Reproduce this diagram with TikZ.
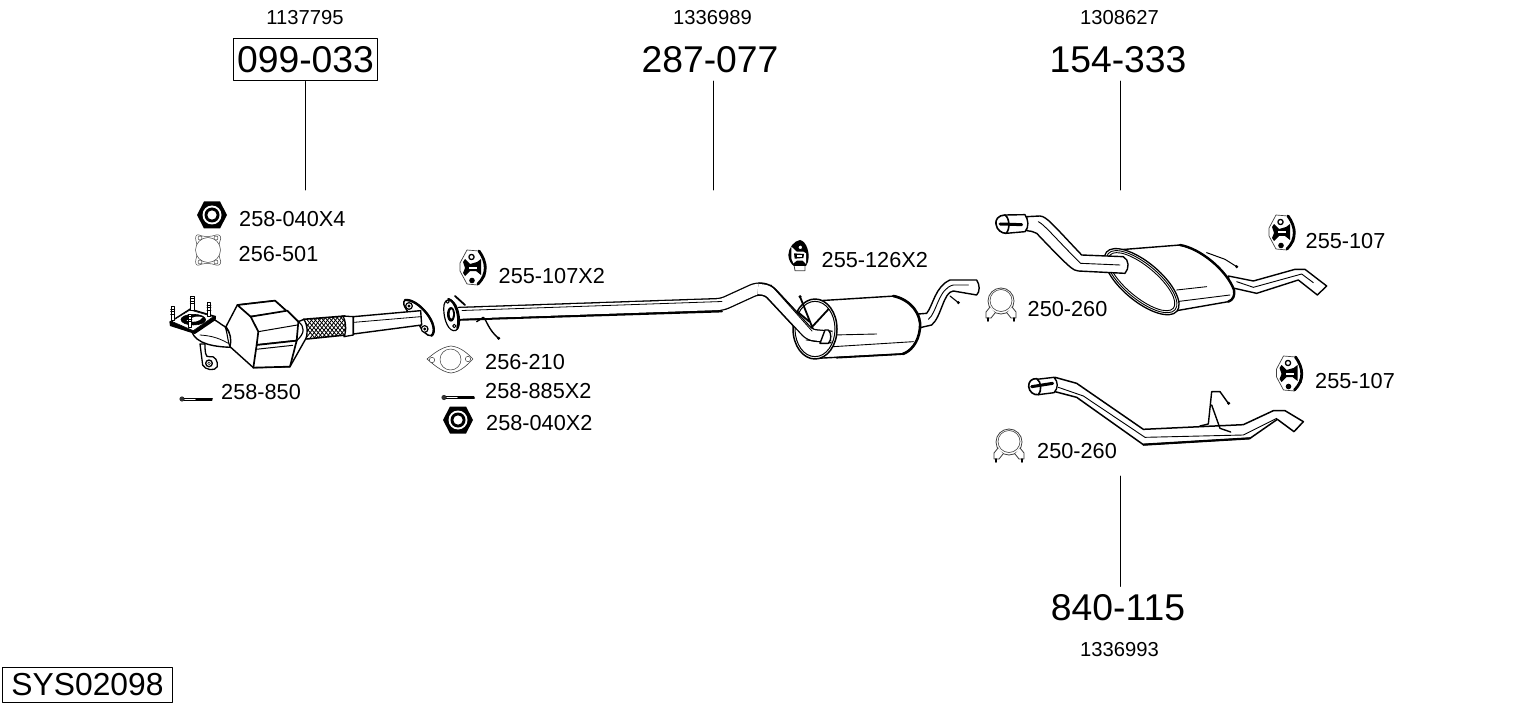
\documentclass[tikz,border=0pt]{standalone}
\usepackage{fontspec}
\setmainfont{Liberation Sans}
\begin{document}
\begin{tikzpicture}[x=1pt,y=-1pt,line join=round,line cap=round]
\tikzset{
 small/.style={font=\fontsize{20.2}{22}\selectfont,inner sep=0pt},
 big/.style={font=\fontsize{37.3}{40}\selectfont,inner sep=0pt},
 lab/.style={font=\fontsize{21.7}{24}\selectfont,inner sep=0pt,anchor=west},
 leader/.style={line width=1pt,black},
 ol/.style={line width=1.1pt,black,fill=white},
 thin part/.style={line width=.5pt,black!75,fill=white},
 pipe/.style={double=white,double distance=#1,line width=1.3pt,draw=black,rounded corners=5pt,line cap=butt},
 wire/.style={line width=1pt,black},
 nutpic/.pic={
  \fill[black] (-15,0)--(-8,-13.5)--(8,-13.5)--(15,0)--(8,13.5)--(-8,13.5)--cycle;
  \fill[white] (0,0) circle (9.5);
  \fill[black] (0,0) circle (7.5);
  \fill[white] (0,0) circle (4.6);
 },
 hangerpic/.pic={
  \draw[thin part,line width=.7pt] (-13,-5)--(-6,-18)--(6,-17)--(13,-3)--(12,8)--(5,17)--(-6,16)--(-13,3)--cycle;
  \draw[line width=2.8pt,black] (6,-17)..controls (14,-6) and (15,6)..(5,16);
  \fill[black] (-8,-9)--(-3,-4)--(4,-6)--(8,-9)--(8,7)--(3,3)--(-3,3)--(-8,8)--(-10,5)--(-8,0)--(-10,-6)--cycle;
  \fill[white] (-4,-1.5) rectangle (4,0.5);
  \draw[line width=1.3pt,black,fill=white] (-1.5,-11) circle (2.6);
  \fill[black] (-1,12.5) circle (2.8);
 },
 clamppic/.pic={
  \draw[thin part,line width=.8pt] (0,-3) circle (13);
  \draw[thin part,line width=.6pt] (0,-3.5) circle (11);
  \draw[line width=.8pt,black!80,fill=white] (-11,3)--(-15,8)--(-15,14)--(-10,14)--(-6,9);
  \draw[line width=.8pt,black!80,fill=white] (11,3)--(15,8)--(15,14)--(10,14)--(6,9);
  \draw[line width=1.6pt,black] (-13,14)--(-13,17) (13,14)--(13,17);
 },
 boltpic/.pic={
  \fill[black!80] (0,0) circle (2.6);
  \draw[line width=.8pt,black] (2,-1)--(30,-1) (2,1)--(30,1);
  \draw[line width=2pt,black] (14,0)--(30,0);
 }
}
\useasboundingbox (0,0) rectangle (1530,711);

% ---- titles
\node[small] (n1) at (305,18) {1137795};
\node[small] (n2) at (712.5,18) {1336989};
\node[small] (n3) at (1119.5,18) {1308627};
\node[small] (n4) at (1119.5,649.5) {1336993};
\node[big,draw,line width=1pt,minimum width=144pt,minimum height=42pt] (p1) at (305.5,60) {099-033};
\node[big,minimum height=42pt] (p2) at (710,60) {287-077};
\node[big,minimum height=42pt] (p3) at (1118,60) {154-333};
\node[big,minimum height=42pt] (p4) at (1118,607.5) {840-115};
\coordinate (c1) at (p1.south |- 0,190);
\coordinate (c2) at (713,190);
\coordinate (c3) at (1120.5,190);
\coordinate (c4) at (1120.5,476);
\draw[leader] (p1.south) -- (c1);
\draw[leader] (p2.south -| c2) -- (c2);
\draw[leader] (p3.south -| c3) -- (c3);
\draw[leader] (p4.north -| c4) -- (c4);
\node[font=\fontsize{31.8}{34}\selectfont,draw,line width=1pt,inner sep=0pt,minimum width=170pt,minimum height=35pt] (sys) at (87.5,685) {SYS02098};

% ---- labels
\node[lab] (l1) at (239,219) {258-040X4};
\node[lab] (l2) at (238.5,254.5) {256-501};
\node[lab] (l3) at (221,392) {258-850};
\node[lab] (l4) at (498.5,276) {255-107X2};
\node[lab] (l5) at (485,362) {256-210};
\node[lab] (l6) at (485,391) {258-885X2};
\node[lab] (l7) at (486,423) {258-040X2};
\node[lab] (l8) at (821.5,260.5) {255-126X2};
\node[lab] (l9) at (1027.5,309) {250-260};
\node[lab] (l10) at (1305.5,241) {255-107};
\node[lab] (l11) at (1037,451) {250-260};
\node[lab] (l12) at (1315,381) {255-107};

% ---- small parts
\pic at (212,215) {nutpic};
\pic at (458,420) {nutpic};
\pic at (473,268) {hangerpic};
\pic at (1282,233) {hangerpic};
\pic at (1289.5,374) {hangerpic};
\pic at (1001,304) {clamppic};
\pic at (1009,445) {clamppic};
\pic at (182,399) {boltpic};
\pic at (444,397.5) {boltpic};

% gasket 256-501
\draw[thin part] (199,235)..controls (203,237) and (211,237)..(216,235)
 ..controls (220,234) and (222,237)..(220,241)..controls (218,246) and (218,254)..(220,259)
 ..controls (222,263) and (220,266)..(216,265)..controls (211,263) and (203,263)..(199,265)
 ..controls (196,266) and (195,263)..(196,259)..controls (198,254) and (198,246)..(196,241)
 ..controls (195,237) and (196,234)..(199,235)--cycle;
\draw[thin part] (208,250) circle (12.5);
\foreach \x/\y in {200/238,216/238,200/262,216/262}{\draw[thin part] (\x,\y) circle (2);}

% gasket 256-210
\draw[thin part,line width=.6pt] (427,359)..controls (432,355) and (441,347)..(451,346)
 ..controls (461,347) and (468,354)..(473,359)..controls (468,364) and (461,372)..(451,373)
 ..controls (441,372) and (432,363)..(427,359)--cycle;
\draw[thin part] (450.5,359.5) circle (10.5);
\draw[thin part] (432,360) circle (2.7);
\draw[thin part] (468,359) circle (2.7);

% hanger 255-126
\begin{scope}[shift={(720,230)},scale=1/3]
 \draw[thin part,line width=.8pt] (222,105)--(225,122)--(255,122)--(255,105);
 \fill[black] (240,30)..controls (222,32) and (205,55)..(205,75)..controls (205,90) and (215,105)..(222,108)--(258,108)..controls (268,95) and (268,70)..(262,55)..controls (258,42) and (250,32)..(240,30)--cycle;
 \fill[white] (214,50)--(230,65)--(250,65)--(258,70)--(258,102)--(248,92)--(230,92)--(220,100)--(214,85)--cycle;
 \fill[black] (222,70)--(252,72)--(250,84)--(224,86)--cycle;
 \fill[white] (230,75) rectangle (245,80);
 \draw[line width=1pt,black,fill=white] (241,52) circle (7);
\end{scope}

% ---- catalyst
\begin{scope}[shift={(150,190)},scale=1/3]
 % bracket
 \draw[line width=1.3pt,black,fill=white] (150,462)--(158,525)..controls (165,540) and (195,545)..(202,530)..controls (205,515) and (195,495)..(178,500)..controls (165,505) and (165,480)..(165,462)--cycle;
 \draw[line width=1.3pt,black] (177,520) circle (10);
 \fill[black] (177,520) circle (5);
 \fill[white] (177,520) circle (2.5);
 % elbow
 \draw[ol,line width=1.4pt] (125,425)..controls (140,462) and (190,470)..(243,472)--(245,430)--(225,410)..controls (215,405) and (205,395)..(185,385)--cycle;
 \draw[line width=.8pt,black] (150,435)..controls (175,437) and (200,440)..(235,460);
 \draw[ol] (225,410)..controls (240,425) and (248,450)..(240,470)..controls (234,460) and (232,425)..(225,410)--cycle;
 % flange
 \fill[black] (58,395)--(120,355)--(198,378)--(197,390)--(135,432)--(60,408)--cycle;
 \draw[fill=white,line width=.6pt] (65,394)--(120,360)--(190,380)--(130,422)--cycle;
 \draw[fill=black,line width=.6pt] (130,389) ellipse (37 and 16);
 \fill[white] (110,392)..controls (130,378) and (145,378)..(158,382)..controls (150,395) and (125,400)..(110,392)--cycle;
 \foreach \x/\y/\h in {68/350/40,127/318/42,177/338/42,120/372/40}{
  \draw[line width=.9pt,fill=white] (\x-5,\y) rectangle (\x+5,\y+\h);
  \foreach \k in {7,15,23}{\draw[line width=.7pt] (\x-6,\y+\k)--(\x+6,\y+\k);}
 }
 % flex + pipe
 \begin{scope}
  \clip (460,388)--(585,378)--(587,435)--(470,447)--cycle;
  \foreach \i in {0,12,...,240}{
   \draw[line width=.8pt,black] (440+\i,450)--(500+\i,370);
   \draw[line width=.8pt,black] (430+\i,370)--(500+\i,450);
  }
 \end{scope}
 \draw[line width=1.6pt] (460,388)--(585,378) (470,447)--(587,435);
 \draw[ol,line width=1.3pt] (578,378)..controls (588,390) and (590,425)..(582,440)--(610,435)--(610,380)--cycle;
 % flange right
 \draw[line width=1.5pt,black,fill=white] (765,330)..controls (785,328) and (810,345)..(830,370)..controls (850,395) and (858,425)..(845,437)..controls (830,440) and (815,420)..(805,400)..controls (790,385) and (770,365)..(762,345)..controls (760,338) and (762,332)..(765,330)--cycle;
 \draw[line width=2.4pt,black] (765,330)..controls (785,328) and (810,345)..(830,370)..controls (850,395) and (858,425)..(845,437);
 \draw[ol,line width=1.4pt] (610,380)--(812,362)--(815,405)--(610,432)--cycle;
 \draw[line width=.8pt] (612,397)--(812,380);
 \draw[line width=1.2pt,fill=white] (777,348) circle (10);
 \fill (777,348) circle (5);
 \draw[line width=1.2pt,fill=white] (824,417) circle (10);
 \fill (824,417) circle (5);
 % body
 \draw[ol,line width=1.4pt] (228,410)--(262,345)--(375,332)--(445,395)--(462,388)..controls (475,410) and (472,435)..(468,445)--(420,530)--(310,533)--(240,470)..controls (246,450) and (240,425)..(228,410)--cycle;
 \draw[line width=1.7pt,fill=white] (262,345)--(375,332)--(412,365)--(302,380)--cycle;
 \draw[line width=1.7pt,fill=white] (302,380)--(412,362)--(445,395)--(440,452)--(320,465)--(325,425)--cycle;
 \draw[line width=1pt] (325,425)--(442,405);
 \draw[line width=1.7pt,fill=white] (320,465)--(440,452)--(420,530)--(310,533)--(318,478)--cycle;
 \draw[line width=1pt] (318,478)--(428,466);
 \draw[line width=1.2pt] (445,395)..controls (465,410) and (465,430)..(440,452);
\end{scope}

% ---- front pipe
\draw[pipe=10.8] (458,313.5)--(722,304.5)--(757,288.5)--(768,290)--(810,335)--(832,337);
\draw[line width=.8pt,black] (462,310.5)--(722,301.5);
\draw[line width=1.8pt,black] (456,320)--(722,311.5);
\begin{scope}[shift={(420,230)},scale=1/3]
 \draw[line width=1.8pt] (105,198)--(135,225);
 \draw[line width=1.2pt,black,fill=white] (72,225)..controls (78,200) and (100,205)..(112,235)..controls (122,265) and (122,305)..(100,302)..controls (80,298) and (68,255)..(72,225)--cycle;
 \draw[line width=2.2pt] (85,207)..controls (105,212) and (122,260)..(112,295);
 \fill (93,253) ellipse (12 and 22);
 \fill[white] (94,252) ellipse (5 and 14);
 \draw[line width=1pt,fill=white] (83,215) circle (5);
 \draw[line width=1pt,fill=white] (103,288) circle (5);
 \draw[wire,line width=1.4pt] (170,275)--(190,262)..controls (200,270) and (205,300)..(236,325);
 \fill (236,325) circle (5);
\end{scope}

% ---- middle muffler
\begin{scope}[shift={(720,230)},scale=1/3]
 \draw[ol,line width=1.4pt] (595,252)--(620,250)..controls (640,225) and (645,170)..(690,150)--(770,150)..controls (780,165) and (780,185)..(770,195)--(700,183)..controls (670,185) and (665,260)..(635,285)--(600,293)--cycle;
 \draw[line width=.9pt] (625,268)..controls (650,250) and (655,175)..(700,165)--(745,165);
 \draw[line width=1.1pt] (690,198)--(715,218);
 \fill (715,218) circle (5);
 \draw[ol,line width=1.4pt] (300,212)--(525,198)..controls (575,210) and (605,255)..(600,295)..controls (595,340) and (570,365)..(548,372)--(290,385)--cycle;
 \draw[line width=2.6pt] (520,198)..controls (575,210) and (605,255)..(600,295)..controls (595,340) and (570,365)..(548,372);
 \draw[line width=1.8pt] (548,372)--(350,383);
 \draw[line width=.9pt] (340,350)--(580,335);
 \draw[line width=.9pt] (340,315)--(470,312);
 \draw[line width=1.5pt,fill=white] (285,297) ellipse [x radius=66,y radius=90];
 \draw[line width=1pt] (285,297) ellipse [x radius=60,y radius=83];
 \draw[line width=1.8pt] (240,200)--(280,300) (325,238)--(275,292) (232,245)--(268,275);
 \fill (240,200) circle (5);
\end{scope}
\draw[pipe=10.2] (758,289)--(768,290)--(810,335)--(832,337);
\draw[line width=.8pt] (806,340)--(830,343);
\begin{scope}[shift={(720,230)},scale=1/3]
 \draw[line width=1.4pt,fill=white] (325,300)..controls (335,310) and (335,330)..(325,340)--(300,340)--(315,300)--cycle;
\end{scope}
\draw[line width=.8pt,black] (771,285)--(812,331);

% ---- rear muffler
\begin{scope}[shift={(980,200)},scale=1/3]
 % outlet pipe
 \draw[ol,line width=1.4pt] (745,228)--(820,243)--(945,208)--(975,208)--(1040,258)--(1012,285)--(955,240)--(830,280)--(750,262)--cycle;
 \draw[line width=.9pt] (770,245)--(820,262)--(965,222)--(1000,248);
 % wire
 \draw[wire] (680,158)--(735,178)--(770,200);
 \fill (770,200) circle (5);
 % body
 \draw[ol,line width=1.4pt] (410,150)--(600,135)..controls (660,145) and (740,210)..(762,270)..controls (765,285) and (760,300)..(745,305)--(590,332)--(500,300)--cycle;
 \draw[line width=2.4pt] (600,135)..controls (660,145) and (740,210)..(762,270)..controls (765,285) and (760,300)..(745,305);
 \draw[line width=.9pt] (590,270)--(680,260);
 \draw[line width=.9pt] (590,305)--(750,285);
 \draw[line width=1.3pt,fill=white,rotate around={-40:(485,245)}] (485,245) ellipse [x radius=138,y radius=58];
 \draw[line width=.9pt,rotate around={-40:(485,245)}] (485,245) ellipse [x radius=131,y radius=52];
 \draw[line width=.9pt,rotate around={-40:(485,245)}] (485,245) ellipse [x radius=124,y radius=46];
 % inlet pipe
 \draw[ol,line width=1.4pt] (140,50)--(180,48)..controls (200,50) and (215,70)..(305,165)--(430,170)..controls (448,180) and (448,205)..(435,220)--(295,213)..controls (280,212) and (270,205)..(170,100)..controls (160,95) and (150,92)..(140,92)--cycle;
 \draw[line width=.9pt] (175,65)..controls (195,75) and (240,130)..(302,190)--(420,195);
 % tip
 \draw[ol,line width=1.4pt] (75,45)--(135,44)..controls (145,60) and (148,80)..(135,95)--(78,100)--cycle;
 \draw[line width=1.6pt,fill=white] (75,45)..controls (55,45) and (45,60)..(48,72)..controls (50,90) and (65,100)..(78,100)..controls (90,90) and (90,55)..(75,45)--cycle;
 \draw[line width=3pt] (60,72)--(125,74);
\end{scope}

% ---- rear pipe
\begin{scope}[shift={(980,350)},scale=1/3]
 \draw[wire,line width=1.4pt] (660,228)--(685,222)--(695,125)--(720,125)--(745,160);
 \fill (746,160) circle (5);
 \draw[ol,line width=1.5pt] (225,82)--(290,100)--(490,238)--(790,224)--(880,182)--(915,182)--(970,215)--(942,245)--(892,208)--(810,265)--(490,284)--(290,142)--(225,125)--cycle;
 \draw[line width=.9pt] (235,112)--(310,138)--(495,262)--(790,255)--(890,205);
 \draw[line width=2.2pt] (490,284)--(810,265);
 \draw[wire,line width=1.4pt] (695,165)--(720,235)--(752,246);
 \draw[ol,line width=1.4pt] (170,88)--(222,82)..controls (235,95) and (235,115)..(222,128)--(175,134)--cycle;
 \draw[line width=1.6pt,fill=white] (170,86)..controls (155,85) and (145,95)..(146,110)..controls (148,125) and (160,136)..(175,134)..controls (185,125) and (185,95)..(170,86)--cycle;
 \draw[line width=3pt] (155,110)--(218,100);
\end{scope}
\end{tikzpicture}
\end{document}
